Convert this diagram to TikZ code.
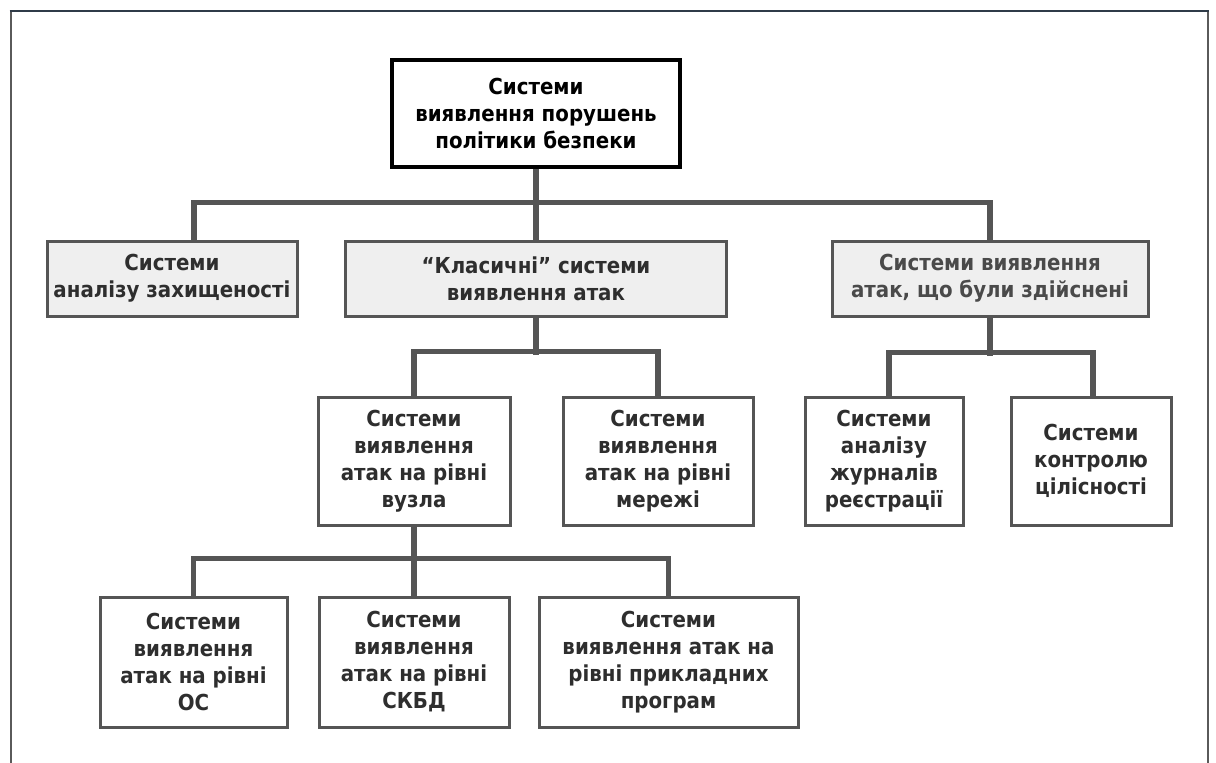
\documentclass[tikz,border=0pt]{standalone}
\usepackage{fontspec}
\setmainfont{DejaVu Sans Condensed}
\definecolor{boxgray}{HTML}{555555}
\definecolor{conngray}{HTML}{555555}
\definecolor{headfill}{HTML}{EFEFEF}
\definecolor{txt}{HTML}{2E2E2E}
\definecolor{txtlight}{HTML}{4A4A4A}
\definecolor{frametop}{HTML}{2F3B48}
\definecolor{frameside}{HTML}{5A5A5A}
\begin{document}
\begin{tikzpicture}[x=1pt,y=-1pt,
  every node/.style={font=\bfseries\fontsize{22}{27}\selectfont, align=center, inner sep=0pt},
  box/.style={draw=boxgray, line width=3pt, fill=white, text=txt},
  headbox/.style={box, fill=headfill},
  rootbox/.style={box, draw=black, line width=3.5pt, text=black},
  conn/.style={draw=conngray, line width=5.5pt, line join=miter}]
\useasboundingbox (0,0) rectangle (1216,763);
\fill[white] (0,0) rectangle (1216,763);
% outer frame
\draw[frameside, line width=2pt] (10.5,763) -- (10.5,11);
\draw[frameside, line width=2pt] (1208,11) -- (1208,763);
\draw[frametop, line width=2pt] (9.5,11) -- (1209,11);

% root
\node[rootbox, minimum width=288, minimum height=107] (root) at (536,113.5)
  {Системи\\виявлення порушень\\політики безпеки};

% first level
\node[headbox, minimum width=250, minimum height=75] (anal) at (172,278.5)
  {Системи\\аналізу захищеності};
\node[headbox, minimum width=381, minimum height=75] (class) at (536,278.5)
  {“Класичні” системи\\виявлення атак};
\node[headbox, text=txtlight, minimum width=316, minimum height=75] (post) at (990,278.5)
  {Системи виявлення\\атак, що були здійснені};

% second level
\node[box, minimum width=192, minimum height=128] (host) at (414,461)
  {Системи\\виявлення\\атак на рівні\\вузла};
\node[box, minimum width=190, minimum height=128] (net) at (658,461)
  {Системи\\виявлення\\атак на рівні\\мережі};
\node[box, minimum width=158, minimum height=128] (logs) at (884,461)
  {Системи\\аналізу\\журналів\\реєстрації};
\node[box, minimum width=160, minimum height=128] (integ) at (1091,461)
  {Системи\\контролю\\цілісності};

% third level
\node[box, minimum width=187, minimum height=130] (os) at (193.5,662)
  {Системи\\виявлення\\атак на рівні\\ОС};
\node[box, minimum width=190, minimum height=130] (dbms) at (414,662)
  {Системи\\виявлення\\атак на рівні\\СКБД};
\node[box, minimum width=259, minimum height=130] (app) at (668.5,662)
  {Системи\\виявлення атак на\\рівні прикладних\\програм};

% connectors
\draw[conn] (root.south) -- (class.north);
\draw[conn] ([xshift=22pt]anal.north) -- ++(0,-37) -| (post.north);

\draw[conn] (class.south) -- ++(0,37);
\draw[conn] (host.north) -- ++(0,-44) -| (net.north);

\draw[conn] (post.south) -- ++(0,38);
\draw[conn] ([xshift=5pt]logs.north) -- ++(0,-43) -| ([xshift=2pt]integ.north);

\draw[conn] (host.south) -- (dbms.north);
\draw[conn] (os.north) -- ++(0,-37) -| (app.north);
\end{tikzpicture}
\end{document}
